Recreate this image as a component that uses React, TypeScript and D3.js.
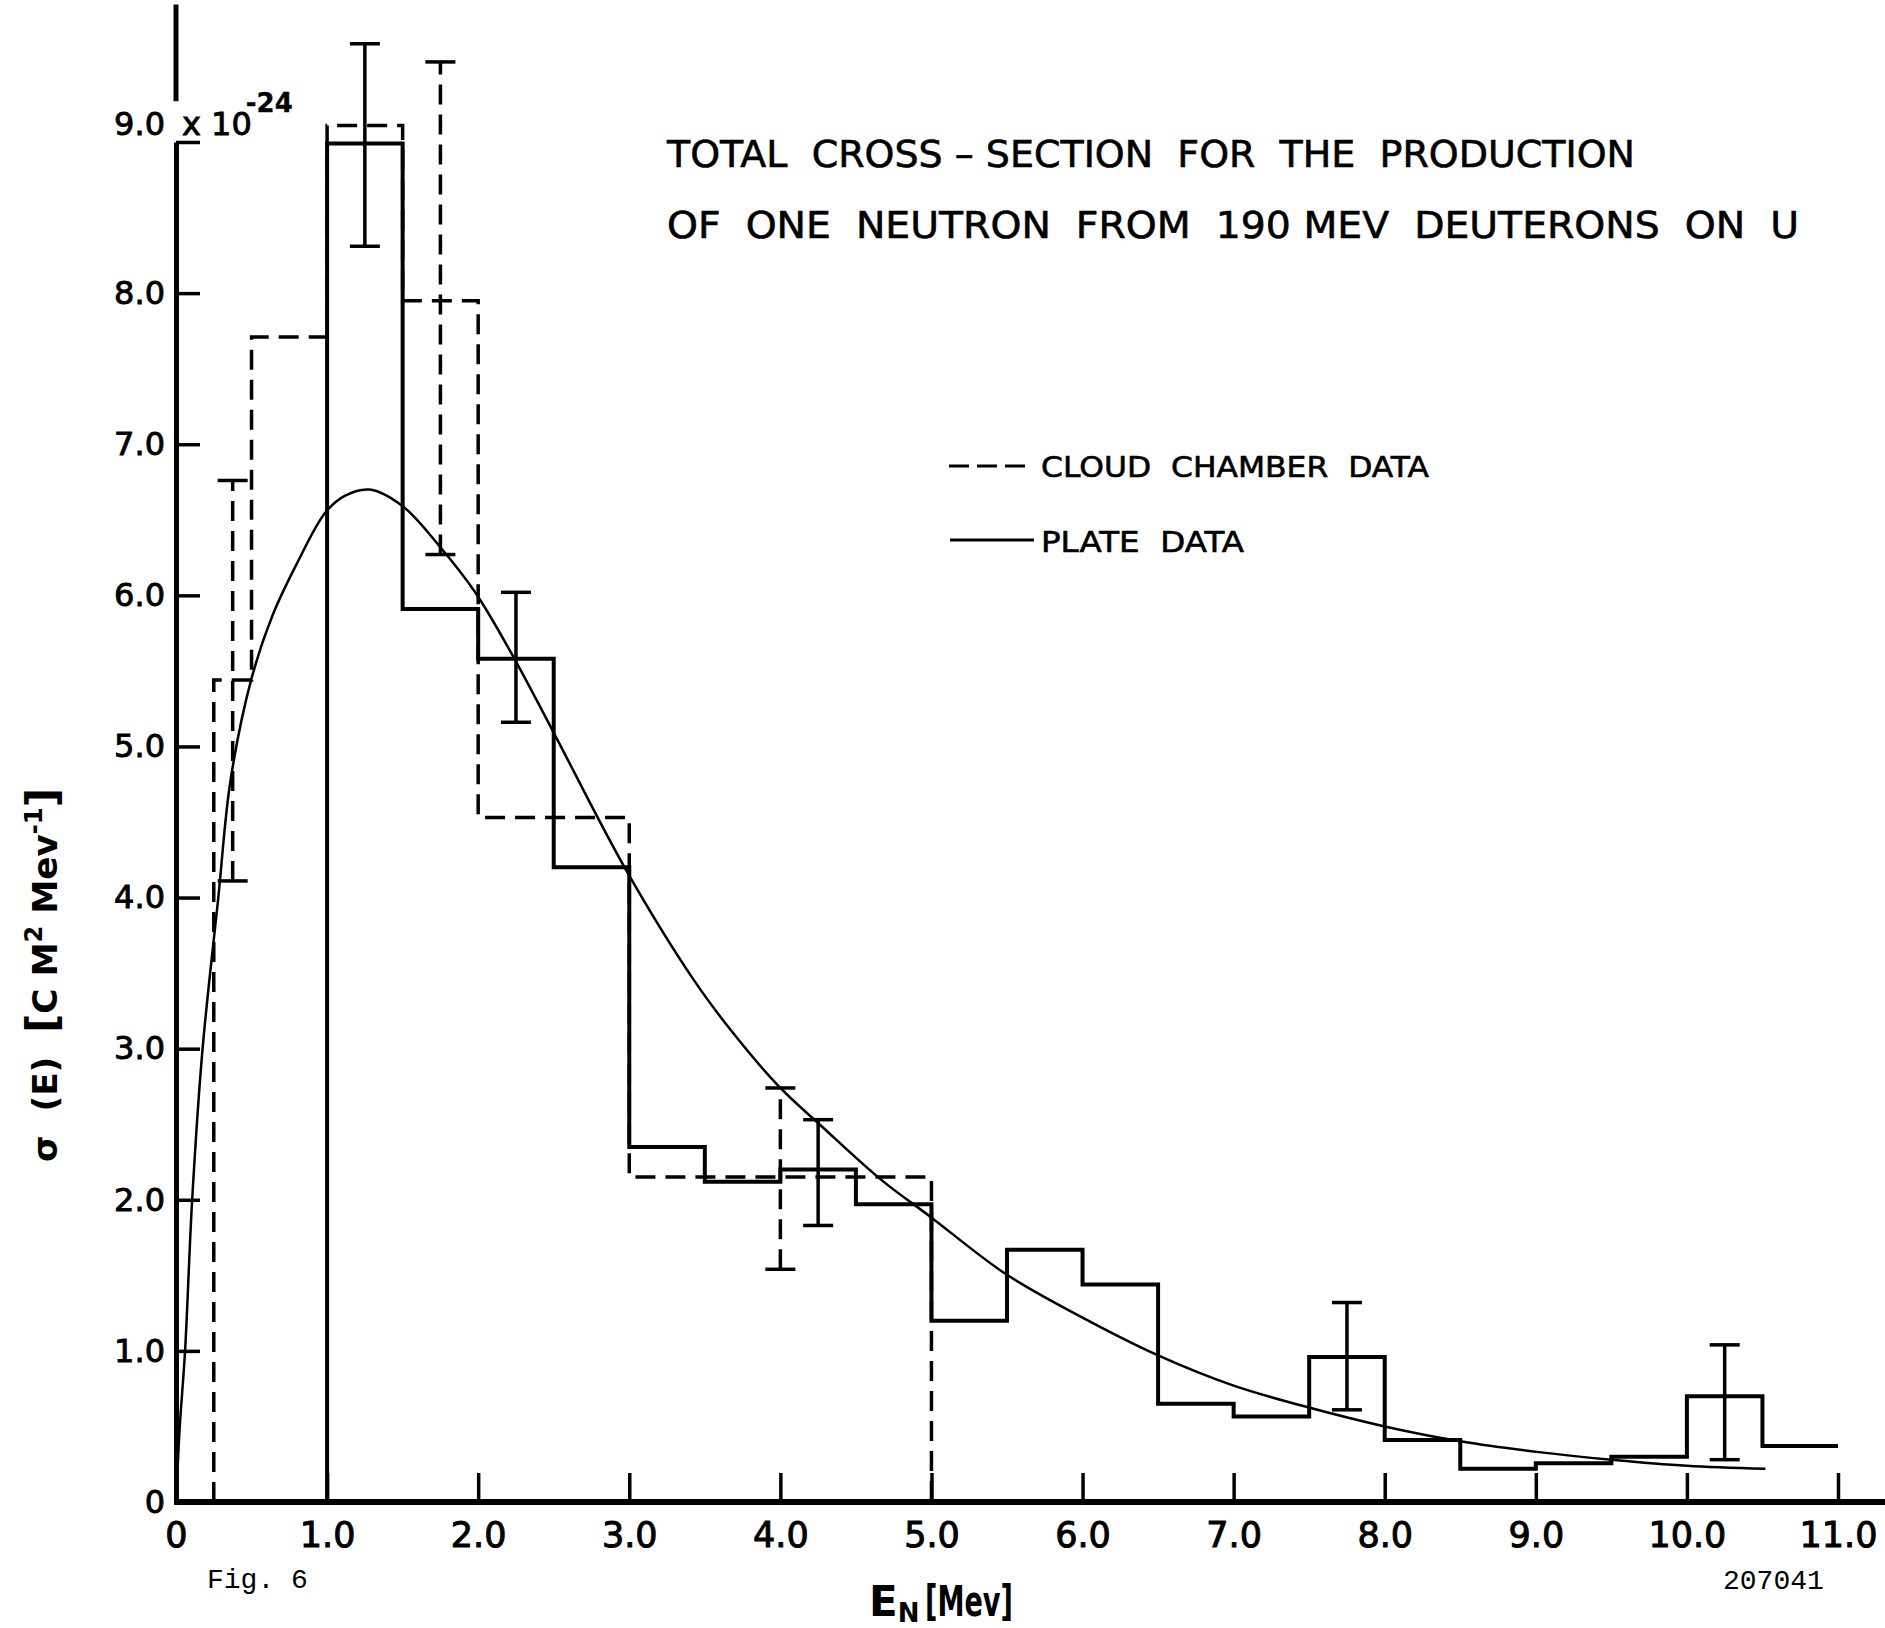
import { useEffect, useRef } from 'react';
import * as d3 from 'd3';

// Plate data (solid histogram), bin edges in Mev and heights in 10^-24 cm^2/Mev
const plateEdges = [1.0, 1.5, 2.0, 2.5, 3.0, 3.5, 4.0, 4.5, 5.0, 5.5, 6.0, 6.5, 7.0, 7.5, 8.0, 8.5, 9.0, 9.5, 10.0, 10.5, 11.0];
const plateValues = [8.99, 5.91, 5.58, 4.2, 2.35, 2.12, 2.2, 1.97, 1.2, 1.67, 1.44, 0.65, 0.565, 0.96, 0.41, 0.22, 0.256, 0.3, 0.7, 0.37];

// Cloud chamber data (dashed histogram)
const cloudEdges = [0.25, 0.5, 1.0, 1.5, 2.0, 3.0, 5.0];
const cloudValues = [5.44, 7.71, 9.11, 7.95, 4.53, 2.15];

// error bars
const plateErrX = [1.25, 2.25, 4.25, 7.75, 10.25];
const plateErrLo = [8.31, 5.16, 1.83, 0.61, 0.28];
const plateErrHi = [9.65, 6.02, 2.53, 1.32, 1.04];

const cloudErrX = [0.375, 1.75, 4.0];
const cloudErrLo = [4.11, 6.27, 1.54];
const cloudErrHi = [6.76, 9.53, 2.74];

// smooth fitted curve
const curveX = [0, 0.025, 0.06, 0.107, 0.176, 0.28, 0.36, 0.5, 0.64, 0.8, 0.99, 1.12, 1.28, 1.5, 1.74, 1.98, 2.24, 2.49, 2.98, 3.43, 3.69, 3.99, 4.28, 4.67, 4.99, 5.49, 6.0, 6.5, 7.0, 7.48, 8.0, 8.51, 9.02, 9.5, 10.0, 10.52];
const curveY = [0, 0.5, 1.0, 2.0, 3.0, 4.0, 4.77, 5.45, 5.87, 6.21, 6.55, 6.66, 6.7, 6.59, 6.33, 6.02, 5.58, 5.11, 4.18, 3.45, 3.1, 2.75, 2.48, 2.13, 1.89, 1.51, 1.22, 0.97, 0.77, 0.63, 0.5, 0.4, 0.33, 0.28, 0.24, 0.22];

const xTicks = [0, 1, 2, 3, 4, 5, 6, 7, 8, 9, 10, 11];
const xTickLabels = ['0', '1.0', '2.0', '3.0', '4.0', '5.0', '6.0', '7.0', '8.0', '9.0', '10.0', '11.0'];
const yTicks = [0, 1, 2, 3, 4, 5, 6, 7, 8, 9];
const yTickLabels = ['0', '1.0', '2.0', '3.0', '4.0', '5.0', '6.0', '7.0', '8.0', '9.0'];

const W = 1885;
const H = 1628;
const FONT = 'DejaVu Sans';

// build step outline from edges + values
function steps(edges: number[], values: number[], closeEnd: boolean) {
    const pts: [number, number][] = [[edges[0], 0]];
    values.forEach((v, i) => {
        pts.push([edges[i], v]);
        pts.push([edges[i + 1], v]);
    });
    if (closeEnd) pts.push([edges[edges.length - 1], 0]);
    return pts;
}

export default function App() {
    const ref = useRef<SVGSVGElement>(null);

    useEffect(() => {
        const svg = d3.select(ref.current);
        svg.selectAll('*').remove();

        const x = d3.scaleLinear().domain([0, 11]).range([176, 1838]);
        const y = d3.scaleLinear().domain([0, 9]).range([1502, 142]);

        svg.append('rect').attr('width', W).attr('height', H).attr('fill', '#fff');

        // Y axis
        const yAxis = d3.axisLeft(y)
            .tickValues(yTicks)
            .tickFormat((d, i) => yTickLabels[i])
            .tickSizeInner(-24)
            .tickSizeOuter(0)
            .tickPadding(11);
        const gy = svg.append('g')
            .attr('transform', `translate(${x(0)},0)`)
            .call(yAxis)
            .attr('font-family', FONT)
            .attr('font-size', 32);
        gy.select('.domain').attr('stroke', '#000').attr('stroke-width', 5);
        gy.selectAll('.tick line').attr('stroke', '#000').attr('stroke-width', 3.5);
        gy.selectAll('.tick text').attr('fill', '#000').attr('stroke', '#000').attr('stroke-width', 0.9);
        gy.selectAll<SVGTextElement, number>('.tick text')
            .filter(d => d === 9)
            .attr('dy', '-0.22em');

        // little axis extension above the 9.0 label
        svg.append('line')
            .attr('x1', x(0)).attr('x2', x(0))
            .attr('y1', y(9.27)).attr('y2', y(9.91))
            .attr('stroke', '#000').attr('stroke-width', 5);

        // "x 10^-24"
        const exp = svg.append('text')
            .attr('x', x(0) + 6)
            .attr('y', y(9) - 7)
            .attr('font-family', FONT)
            .attr('font-size', 32)
            .attr('fill', '#000')
            .attr('stroke', '#000')
            .attr('stroke-width', 0.9);
        exp.append('tspan').text('x 10');
        exp.append('tspan')
            .attr('dx', -6)
            .attr('dy', -23)
            .attr('font-size', 26)
            .attr('font-weight', 'bold')
            .attr('stroke-width', 0.3)
            .text('-24');

        // X axis
        const xAxis = d3.axisBottom(x)
            .tickValues(xTicks)
            .tickFormat((d, i) => xTickLabels[i])
            .tickSizeInner(-29)
            .tickSizeOuter(0)
            .tickPadding(20);
        const gx = svg.append('g')
            .attr('transform', `translate(0,${y(0)})`)
            .call(xAxis)
            .attr('font-family', FONT)
            .attr('font-size', 35);
        gx.select('.domain').remove();
        gx.selectAll('.tick line').attr('stroke', '#000').attr('stroke-width', 3.5);
        gx.selectAll('.tick text').attr('fill', '#000').attr('stroke', '#000').attr('stroke-width', 1);

        svg.append('line')
            .attr('x1', x(0) - 2).attr('x2', W)
            .attr('y1', y(0)).attr('y2', y(0))
            .attr('stroke', '#000').attr('stroke-width', 6);

        const line = d3.line<[number, number]>()
            .x(d => x(d[0]))
            .y(d => y(d[1]));

        // Histograms
        svg.append('path')
            .datum(steps(cloudEdges, cloudValues, true))
            .attr('d', line)
            .attr('fill', 'none')
            .attr('stroke', '#000')
            .attr('stroke-width', 3.5)
            .attr('stroke-dasharray', '20 10');

        svg.append('path')
            .datum(steps(plateEdges, plateValues, false))
            .attr('d', line)
            .attr('fill', 'none')
            .attr('stroke', '#000')
            .attr('stroke-width', 4)
            .attr('stroke-linejoin', 'miter');

        // Fitted curve
        const curvePts: [number, number][] = curveX.map((v, i) => [v, curveY[i]]);
        const smooth = d3.line<[number, number]>()
            .x(d => x(d[0]))
            .y(d => y(d[1]))
            .curve(d3.curveCatmullRom.alpha(0.5));
        svg.append('path')
            .datum(curvePts)
            .attr('d', smooth)
            .attr('fill', 'none')
            .attr('stroke', '#000')
            .attr('stroke-width', 2.5);

        // Error bars
        const capHalf = 15;
        const drawErr = (xs: number[], lo: number[], hi: number[], dashed: boolean) => {
            const g = svg.append('g').attr('stroke', '#000').attr('stroke-width', 3.5);
            xs.forEach((xv, i) => {
                g.append('line')
                    .attr('x1', x(xv)).attr('x2', x(xv))
                    .attr('y1', y(lo[i])).attr('y2', y(hi[i]))
                    .attr('stroke-dasharray', dashed ? '20 10' : null);
                [lo[i], hi[i]].forEach(v => {
                    g.append('line')
                        .attr('x1', x(xv) - capHalf).attr('x2', x(xv) + capHalf)
                        .attr('y1', y(v)).attr('y2', y(v));
                });
            });
        };
        drawErr(plateErrX, plateErrLo, plateErrHi, false);
        drawErr(cloudErrX, cloudErrLo, cloudErrHi, true);

        // Title
        svg.append('text')
            .attr('x', 667).attr('y', 167)
            .attr('font-family', FONT).attr('font-size', 37)
            .attr('fill', '#000').attr('stroke', '#000').attr('stroke-width', 0.6)
            .attr('textLength', 968).attr('lengthAdjust', 'spacingAndGlyphs')
            .style('white-space', 'pre')
            .text('TOTAL  CROSS – SECTION  FOR  THE  PRODUCTION');
        svg.append('text')
            .attr('x', 667).attr('y', 238)
            .attr('font-family', FONT).attr('font-size', 37)
            .attr('fill', '#000').attr('stroke', '#000').attr('stroke-width', 0.6)
            .attr('textLength', 1132).attr('lengthAdjust', 'spacingAndGlyphs')
            .style('white-space', 'pre')
            .text('OF  ONE  NEUTRON  FROM  190 MEV  DEUTERONS  ON  U');

        // Legend
        svg.append('line')
            .attr('x1', 949).attr('x2', 1026).attr('y1', 466).attr('y2', 466)
            .attr('stroke', '#000').attr('stroke-width', 3).attr('stroke-dasharray', '20 8');
        svg.append('text')
            .attr('x', 1041).attr('y', 477)
            .attr('font-family', FONT).attr('font-size', 29)
            .attr('fill', '#000').attr('stroke', '#000').attr('stroke-width', 0.6)
            .attr('textLength', 388).attr('lengthAdjust', 'spacingAndGlyphs')
            .style('white-space', 'pre')
            .text('CLOUD  CHAMBER  DATA');
        svg.append('line')
            .attr('x1', 950).attr('x2', 1034).attr('y1', 540).attr('y2', 540)
            .attr('stroke', '#000').attr('stroke-width', 3);
        svg.append('text')
            .attr('x', 1041).attr('y', 552)
            .attr('font-family', FONT).attr('font-size', 29)
            .attr('fill', '#000').attr('stroke', '#000').attr('stroke-width', 0.6)
            .attr('textLength', 203).attr('lengthAdjust', 'spacingAndGlyphs')
            .style('white-space', 'pre')
            .text('PLATE  DATA');

        // Y label
        const yl = svg.append('text')
            .attr('transform', 'translate(57,975) rotate(-90)')
            .attr('text-anchor', 'middle')
            .attr('font-family', FONT).attr('font-size', 34).attr('font-weight', 'bold')
            .attr('fill', '#000')
            .attr('textLength', 374).attr('lengthAdjust', 'spacingAndGlyphs')
            .style('white-space', 'pre');
        yl.append('tspan').text('σ  (E)  ');
        yl.append('tspan').attr('font-size', 42).text('[');
        yl.append('tspan').text('C M');
        yl.append('tspan').attr('font-size', 24).attr('dy', -15).text('2');
        yl.append('tspan').attr('dy', 15).text(' Mev');
        yl.append('tspan').attr('font-size', 24).attr('dy', -15).text('-1');
        yl.append('tspan').attr('font-size', 42).attr('dy', 15).text(']');

        // X label
        const xl = svg.append('text')
            .attr('x', 869).attr('y', 1616)
            .attr('font-family', FONT).attr('font-weight', 'bold').attr('fill', '#000');
        xl.append('tspan').attr('font-size', 42).text('E');
        xl.append('tspan').attr('font-size', 26).attr('dy', 6).text('N');
        svg.append('text')
            .attr('x', 925).attr('y', 1616)
            .attr('font-family', FONT).attr('font-weight', 'bold').attr('font-size', 42)
            .attr('fill', '#000')
            .attr('textLength', 88).attr('lengthAdjust', 'spacingAndGlyphs')
            .text('[Mev]');

        // footer notes
        svg.append('text')
            .attr('x', 207).attr('y', 1588)
            .attr('font-family', 'Liberation Mono').attr('font-size', 28).attr('fill', '#000')
            .text('Fig. 6');
        svg.append('text')
            .attr('x', 1723).attr('y', 1589)
            .attr('font-family', 'Liberation Mono').attr('font-size', 28).attr('fill', '#000')
            .text('207041');
    }, []);

    return (
        <svg
            ref={ref}
            width={W}
            height={H}
            style={{ position: 'absolute', left: 0, top: 0, display: 'block', background: '#fff' }}
        ></svg>
    );
}
